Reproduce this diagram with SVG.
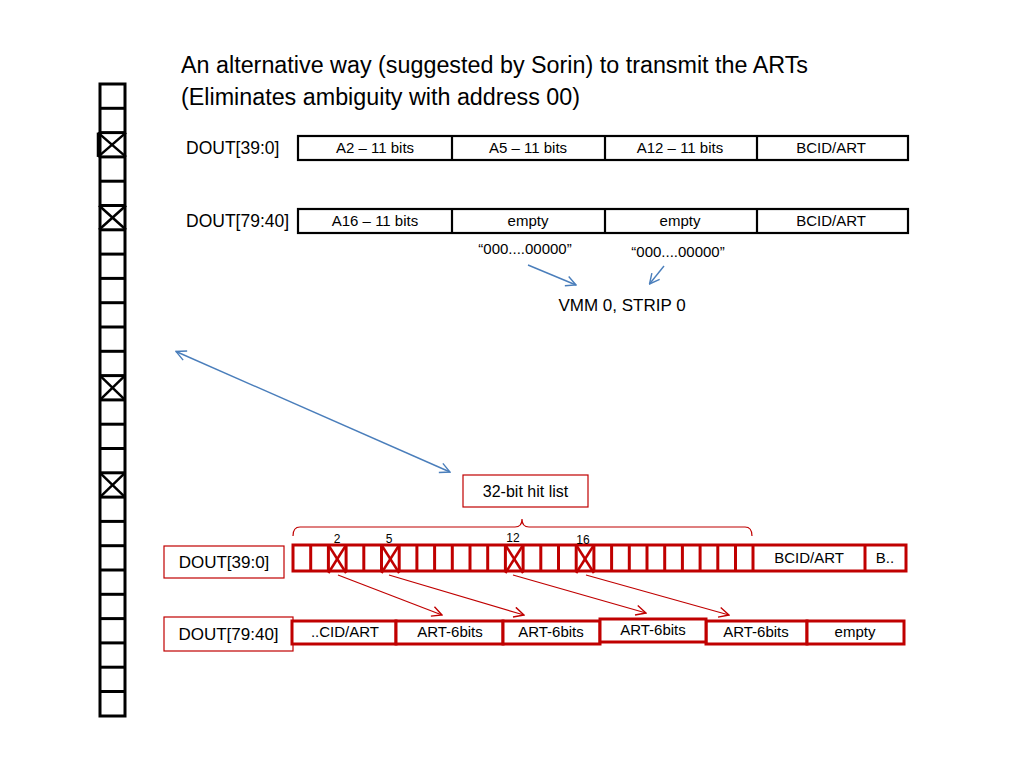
<svg xmlns="http://www.w3.org/2000/svg" width="1024" height="768" viewBox="0 0 1024 768">
<defs>
<style>
text{font-family:"Liberation Sans",Arial,sans-serif;fill:#000}
.blk{fill:#fff;stroke:#000;stroke-width:2.2}
.col{fill:#fff;stroke:#000;stroke-width:3}
.xk{stroke:#000;stroke-width:2.5}
.red{fill:#fff;stroke:#C00000;stroke-width:3}
.redthin{fill:#fff;stroke:#C00000;stroke-width:1.2}
.xr{stroke:#C00000;stroke-width:2.5}
.bl{fill:none;stroke:#4A7EBB;stroke-width:1.4}
.ra{fill:none;stroke:#C00000;stroke-width:1.2}
.lbl{font-size:15px;text-anchor:middle}
.big{font-size:17.5px}
</style>
<marker id="ab" viewBox="0 0 12 12" refX="11" refY="6" markerWidth="12" markerHeight="12" markerUnits="userSpaceOnUse" orient="auto-start-reverse">
<path d="M1,1 L11,6 L1,11" fill="none" stroke="#4A7EBB" stroke-width="1.4"/>
</marker>
<marker id="ar" viewBox="0 0 12 12" refX="11" refY="6" markerWidth="12" markerHeight="12" markerUnits="userSpaceOnUse" orient="auto">
<path d="M1,1 L11,6 L1,11" fill="none" stroke="#C00000" stroke-width="1.4"/>
</marker>
</defs>
<rect width="1024" height="768" fill="#fff"/>

<g id="title">
<text x="181" y="73" font-size="23.5" textLength="627" lengthAdjust="spacingAndGlyphs">An alternative way (suggested by Sorin) to transmit the ARTs</text>
<text x="181" y="105" font-size="23.5" textLength="399" lengthAdjust="spacingAndGlyphs">(Eliminates ambiguity with address 00)</text>
</g>

<g id="column">
<rect class="col" x="100" y="84" width="25" height="632"/>
<g stroke="#000" stroke-width="3">
<line x1="100" y1="108.3" x2="125" y2="108.3"/><line x1="100" y1="132.6" x2="125" y2="132.6"/>
<line x1="100" y1="156.9" x2="125" y2="156.9"/><line x1="100" y1="181.2" x2="125" y2="181.2"/>
<line x1="100" y1="205.5" x2="125" y2="205.5"/><line x1="100" y1="229.8" x2="125" y2="229.8"/>
<line x1="100" y1="254.1" x2="125" y2="254.1"/><line x1="100" y1="278.4" x2="125" y2="278.4"/>
<line x1="100" y1="302.7" x2="125" y2="302.7"/><line x1="100" y1="327.0" x2="125" y2="327.0"/>
<line x1="100" y1="351.3" x2="125" y2="351.3"/><line x1="100" y1="375.6" x2="125" y2="375.6"/>
<line x1="100" y1="399.9" x2="125" y2="399.9"/><line x1="100" y1="424.2" x2="125" y2="424.2"/>
<line x1="100" y1="448.5" x2="125" y2="448.5"/><line x1="100" y1="472.8" x2="125" y2="472.8"/>
<line x1="100" y1="497.1" x2="125" y2="497.1"/><line x1="100" y1="521.4" x2="125" y2="521.4"/>
<line x1="100" y1="545.7" x2="125" y2="545.7"/><line x1="100" y1="570.0" x2="125" y2="570.0"/>
<line x1="100" y1="594.3" x2="125" y2="594.3"/><line x1="100" y1="618.6" x2="125" y2="618.6"/>
<line x1="100" y1="642.9" x2="125" y2="642.9"/><line x1="100" y1="667.2" x2="125" y2="667.2"/>
<line x1="100" y1="691.5" x2="125" y2="691.5"/>
</g>
<g class="xk">
<line x1="98" y1="132.6" x2="126" y2="156.9"/><line x1="98" y1="156.9" x2="126" y2="132.6"/>
<line x1="98" y1="132.6" x2="98" y2="156.9"/>
<line x1="99" y1="205.5" x2="126" y2="229.8"/><line x1="99" y1="229.8" x2="126" y2="205.5"/>
<line x1="100" y1="375.6" x2="125" y2="399.9"/><line x1="100" y1="399.9" x2="125" y2="375.6"/>
<line x1="100" y1="472.8" x2="125" y2="497.1"/><line x1="100" y1="497.1" x2="125" y2="472.8"/>
</g>
</g>

<g id="top-row1">
<text class="big" x="186" y="154">DOUT[39:0]</text>
<rect class="blk" x="298" y="136" width="610" height="24"/>
<line class="blk" x1="452" y1="136" x2="452" y2="160"/>
<line class="blk" x1="605" y1="136" x2="605" y2="160"/>
<line class="blk" x1="757" y1="136" x2="757" y2="160"/>
<text class="lbl" x="375" y="153">A2 – 11 bits</text>
<text class="lbl" x="528" y="153">A5 – 11 bits</text>
<text class="lbl" x="680" y="153">A12 – 11 bits</text>
<text class="lbl" x="831" y="153">BCID/ART</text>
</g>

<g id="top-row2">
<text class="big" x="186" y="227">DOUT[79:40]</text>
<rect class="blk" x="298" y="209" width="610" height="24"/>
<line class="blk" x1="452" y1="209" x2="452" y2="233"/>
<line class="blk" x1="605" y1="209" x2="605" y2="233"/>
<line class="blk" x1="757" y1="209" x2="757" y2="233"/>
<text class="lbl" x="375" y="226">A16 – 11 bits</text>
<text class="lbl" x="528" y="226">empty</text>
<text class="lbl" x="680" y="226">empty</text>
<text class="lbl" x="831" y="226">BCID/ART</text>
</g>

<g id="zeros">
<text class="lbl" x="525" y="254">“000....00000”</text>
<text class="lbl" x="678" y="257">“000....00000”</text>
<text x="622" y="311" font-size="17" text-anchor="middle">VMM 0, STRIP 0</text>
</g>

<g id="hitlist-label">
<rect class="redthin" x="463" y="475" width="125" height="32"/>
<text x="525.5" y="497" font-size="16" text-anchor="middle">32-bit hit list</text>
<path d="M293,536 Q293,527 300,527 L515,527 Q522,527 522,519 Q522,527 529,527 L745,527 Q752,527 752,536" fill="none" stroke="#C00000" stroke-width="1.2"/>
</g>

<g id="bot-row1">
<rect class="redthin" x="164" y="546" width="120" height="32"/>
<text x="224" y="568" font-size="17" text-anchor="middle">DOUT[39:0]</text>
<rect class="red" x="293" y="545" width="613" height="26"/>
<g stroke="#C00000" stroke-width="3">
<line x1="310.7" y1="545" x2="310.7" y2="571"/><line x1="328.4" y1="545" x2="328.4" y2="571"/>
<line x1="346.1" y1="545" x2="346.1" y2="571"/><line x1="363.8" y1="545" x2="363.8" y2="571"/>
<line x1="381.5" y1="545" x2="381.5" y2="571"/><line x1="399.2" y1="545" x2="399.2" y2="571"/>
<line x1="416.9" y1="545" x2="416.9" y2="571"/><line x1="434.6" y1="545" x2="434.6" y2="571"/>
<line x1="452.3" y1="545" x2="452.3" y2="571"/><line x1="470.0" y1="545" x2="470.0" y2="571"/>
<line x1="487.7" y1="545" x2="487.7" y2="571"/><line x1="505.4" y1="545" x2="505.4" y2="571"/>
<line x1="523.1" y1="545" x2="523.1" y2="571"/><line x1="540.8" y1="545" x2="540.8" y2="571"/>
<line x1="558.5" y1="545" x2="558.5" y2="571"/><line x1="576.2" y1="545" x2="576.2" y2="571"/>
<line x1="593.9" y1="545" x2="593.9" y2="571"/><line x1="611.6" y1="545" x2="611.6" y2="571"/>
<line x1="629.3" y1="545" x2="629.3" y2="571"/><line x1="647.0" y1="545" x2="647.0" y2="571"/>
<line x1="664.7" y1="545" x2="664.7" y2="571"/><line x1="682.4" y1="545" x2="682.4" y2="571"/>
<line x1="700.1" y1="545" x2="700.1" y2="571"/><line x1="717.8" y1="545" x2="717.8" y2="571"/>
<line x1="735.5" y1="545" x2="735.5" y2="571"/><line x1="753" y1="545" x2="753" y2="571"/>
<line x1="865" y1="545" x2="865" y2="571"/>
</g>
<g class="xr">
<line x1="328.4" y1="545" x2="346.1" y2="573"/><line x1="328.4" y1="573" x2="346.1" y2="545"/>
<line x1="381.5" y1="545" x2="399.2" y2="573"/><line x1="381.5" y1="573" x2="399.2" y2="545"/>
<line x1="505.4" y1="545" x2="523.1" y2="573"/><line x1="505.4" y1="573" x2="523.1" y2="545"/>
<line x1="576.2" y1="545" x2="593.9" y2="573"/><line x1="576.2" y1="573" x2="593.9" y2="545"/>
</g>
<g font-size="12" text-anchor="middle">
<text x="337" y="543">2</text>
<text x="389" y="543">5</text>
<text x="513" y="542">12</text>
<text x="583" y="544">16</text>
</g>
<text class="lbl" x="809" y="563">BCID/ART</text>
<text class="lbl" x="885" y="563">B..</text>
</g>

<g id="bot-row2">
<rect class="redthin" x="164" y="617" width="129" height="34"/>
<text x="228.5" y="640" font-size="17" text-anchor="middle">DOUT[79:40]</text>
<rect class="red" x="292" y="621" width="104" height="23"/>
<rect class="red" x="396" y="621" width="107" height="23"/>
<rect class="red" x="503" y="621" width="97" height="23"/>
<rect class="red" x="706" y="621" width="101" height="23"/>
<rect class="red" x="807" y="621" width="97" height="23"/>
<rect class="red" x="600" y="619" width="106" height="23"/>
<text class="lbl" x="345" y="637">..CID/ART</text>
<text class="lbl" x="450" y="637">ART-6bits</text>
<text class="lbl" x="551" y="637">ART-6bits</text>
<text class="lbl" x="653" y="635">ART-6bits</text>
<text class="lbl" x="756" y="637">ART-6bits</text>
<text class="lbl" x="855" y="637">empty</text>
</g>

<g id="connectors">
<line class="bl" x1="176" y1="351.5" x2="450" y2="472" marker-start="url(#ab)" marker-end="url(#ab)"/>
<line class="bl" x1="528" y1="265" x2="576" y2="285" marker-end="url(#ab)"/>
<line class="bl" x1="664" y1="266" x2="649.5" y2="284" marker-end="url(#ab)"/>
<line class="ra" x1="338" y1="575" x2="442" y2="615" marker-end="url(#ar)"/>
<line class="ra" x1="389" y1="575" x2="524" y2="615" marker-end="url(#ar)"/>
<line class="ra" x1="513" y1="575" x2="646" y2="613" marker-end="url(#ar)"/>
<line class="ra" x1="586" y1="575" x2="729" y2="615" marker-end="url(#ar)"/>
</g>
</svg>
